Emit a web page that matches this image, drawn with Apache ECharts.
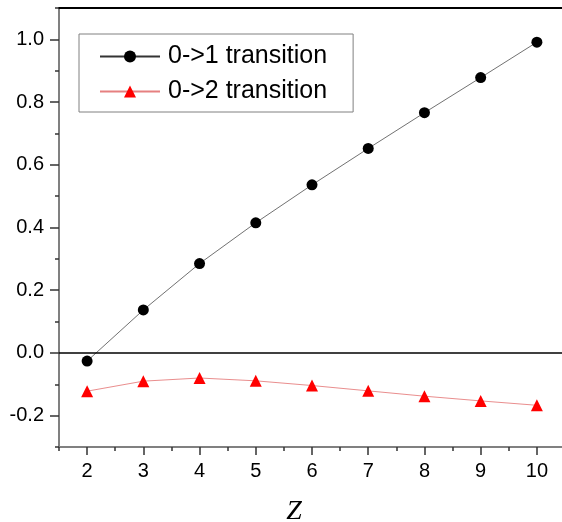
<!DOCTYPE html>
<html>
<head>
<meta charset="utf-8">
<script src="https://cdn.jsdelivr.net/npm/echarts@6/dist/echarts.min.js"></script>
<style>
  html, body { margin: 0; padding: 0; background: #fff; }
  #chart { width: 562px; height: 522px; }
</style>
</head>
<body>
<div id="chart"></div>
<script>
// values
const zValues = [2, 3, 4, 5, 6, 7, 8, 9, 10]
const trans01 = [-0.026, 0.137, 0.285, 0.415, 0.536, 0.652, 0.766, 0.878, 0.991]
const trans02 = [-0.122, -0.090, -0.080, -0.089, -0.104, -0.121, -0.138, -0.153, -0.167]

const seriesNames = ['0->1 transition', '0->2 transition']

// tick positions
const xMajor = [2, 3, 4, 5, 6, 7, 8, 9, 10]
const xMinor = [1.5, 2.5, 3.5, 4.5, 5.5, 6.5, 7.5, 8.5, 9.5, 10.5]
const yMajor = [-0.2, 0, 0.2, 0.4, 0.6, 0.8, 1.0]
const yMinor = [-0.3, -0.1, 0.1, 0.3, 0.5, 0.7, 0.9, 1.1]

const chart = echarts.init(document.getElementById('chart'))

function pairs(ys) {
  return zValues.map((z, i) => [z, ys[i]])
}

const xRange = { min: 1.5, max: 10.5 }
const yRange = { min: -0.3, max: 1.1 }

const options = {
  animation: false,
  grid: {
    left: 59,
    top: 8,
    width: 506,
    bottom: 75,
    containLabel: false,
    outerBoundsMode: 'none',
  },
  legend: {
    orient: 'vertical',
    left: 79,
    top: 34,
    itemWidth: 60,
    itemHeight: 15,
    itemGap: 10,
    padding: [10, 26, 8, 20],
    borderColor: '#808080',
    borderWidth: 1,
    textStyle: {
      fontSize: 25,
      fontFamily: 'Liberation Sans',
      color: '#000',
      padding: [0, 0, 0, 3],
    },
    data: seriesNames,
  },
  xAxis: [
    {
      type: 'value',
      ...xRange,
      name: 'Z',
      nameLocation: 'middle',
      nameGap: 51,
      nameTextStyle: {
        fontFamily: 'Liberation Serif',
        fontStyle: 'italic',
        fontSize: 28,
        color: '#000',
        padding: [0, 36, 0, 0],
      },
      axisLine: { show: true, onZero: false, lineStyle: { color: '#808080', width: 2 } },
      axisTick: { show: true, length: 8, customValues: xMajor, lineStyle: { color: '#333', width: 1.5 } },
      axisLabel: {
        customValues: xMajor,
        fontSize: 20,
        fontFamily: 'Liberation Sans',
        color: '#000',
        margin: 14,
      },
      splitLine: { show: false },
    },
    {
      type: 'value',
      ...xRange,
      position: 'bottom',
      axisLine: { show: false, onZero: false },
      axisTick: { show: true, length: 4, customValues: xMinor, lineStyle: { color: '#333', width: 1.5 } },
      axisLabel: { show: false },
      splitLine: { show: false },
    },
    {
      type: 'value',
      ...xRange,
      position: 'top',
      axisLine: { show: true, onZero: false, lineStyle: { color: '#000', width: 2 } },
      axisTick: { show: false },
      axisLabel: { show: false },
      splitLine: { show: false },
    },
  ],
  yAxis: [
    {
      type: 'value',
      ...yRange,
      axisLine: { show: true, onZero: false, lineStyle: { color: '#808080', width: 2 } },
      axisTick: { show: true, length: 9, customValues: yMajor, lineStyle: { color: '#333', width: 1.5 } },
      axisLabel: {
        customValues: yMajor,
        formatter: (v) => v.toFixed(1),
        fontSize: 20,
        fontFamily: 'Liberation Sans',
        color: '#000',
        margin: 15,
      },
      splitLine: { show: false },
    },
    {
      type: 'value',
      ...yRange,
      position: 'left',
      axisLine: { show: false, onZero: false },
      axisTick: { show: true, length: 4, customValues: yMinor, lineStyle: { color: '#333', width: 1.5 } },
      axisLabel: { show: false },
      splitLine: { show: false },
    },
  ],
  series: [
    {
      name: seriesNames[0],
      type: 'line',
      data: pairs(trans01),
      symbol: 'circle',
      symbolSize: 11,
      itemStyle: { color: '#000' },
      lineStyle: { color: '#333', width: 0.7 },
      markLine: {
        silent: true,
        symbol: 'none',
        label: { show: false },
        lineStyle: { color: '#000', width: 1.5, type: 'solid' },
        data: [{ yAxis: 0 }],
      },
    },
    {
      name: seriesNames[1],
      type: 'line',
      data: pairs(trans02),
      symbol: 'triangle',
      symbolSize: 12,
      itemStyle: { color: '#ff0000' },
      lineStyle: { color: '#e68080', width: 0.9 },
    },
  ],
}

chart.setOption(options)
</script>
</body>
</html>
